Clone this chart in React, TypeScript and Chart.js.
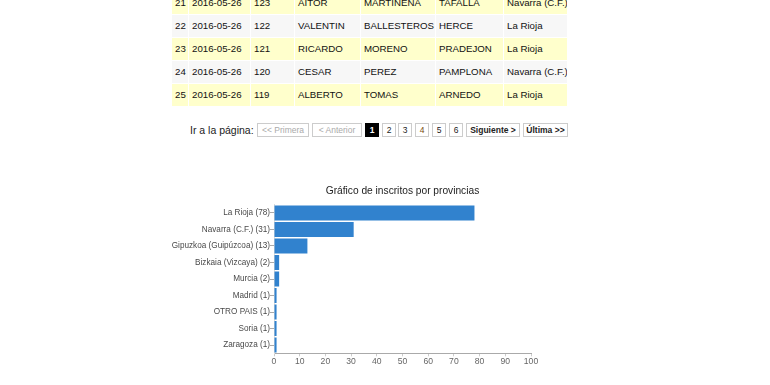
import React, { useEffect, useRef } from "react";
import { Chart, registerables } from "chart.js";

Chart.register(...registerables);

const chartTitle = "Gráfico de inscritos por provincias";
const provinces = [
  "La Rioja (78)",
  "Navarra (C.F.) (31)",
  "Gipuzkoa (Guipúzcoa) (13)",
  "Bizkaia (Vizcaya) (2)",
  "Murcia (2)",
  "Madrid (1)",
  "OTRO PAIS (1)",
  "Soria (1)",
  "Zaragoza (1)",
];
const inscritos = [78, 31, 13, 2, 2, 1, 1, 1, 1];
const xTicks = [0, 10, 20, 30, 40, 50, 60, 70, 80, 90, 100];

const tableRows: string[][] = [
  ["21", "2016-05-26", "123", "AITOR", "MARTINENA", "TAFALLA", "Navarra (C.F.)"],
  ["22", "2016-05-26", "122", "VALENTIN", "BALLESTEROS", "HERCE", "La Rioja"],
  ["23", "2016-05-26", "121", "RICARDO", "MORENO", "PRADEJON", "La Rioja"],
  ["24", "2016-05-26", "120", "CESAR", "PEREZ", "PAMPLONA", "Navarra (C.F.)"],
  ["25", "2016-05-26", "119", "ALBERTO", "TOMAS", "ARNEDO", "La Rioja"],
];
const colEdges = [172, 189, 251, 295, 361, 436, 504, 568];

const pageButtons = [
  { t: "<< Primera", x: 257, w: 52, kind: "off" },
  { t: "< Anterior", x: 312, w: 50, kind: "off" },
  { t: "1", x: 365, w: 14, kind: "cur" },
  { t: "2", x: 382, w: 14, kind: "n" },
  { t: "3", x: 398, w: 14, kind: "n" },
  { t: "4", x: 415, w: 14, kind: "n4" },
  { t: "5", x: 432, w: 14, kind: "n" },
  { t: "6", x: 449, w: 14, kind: "n" },
  { t: "Siguiente >", x: 466, w: 54, kind: "b" },
  { t: "Última >>", x: 523, w: 45, kind: "b" },
];

const FONT = '"Liberation Sans", Arial, Helvetica, sans-serif';

const centeredTitle = {
  id: "centeredTitle",
  afterDraw(chart: any) {
    const { ctx, chartArea } = chart;
    ctx.save();
    ctx.font = "10.2px " + FONT;
    ctx.fillStyle = "#222";
    ctx.textAlign = "center";
    ctx.textBaseline = "middle";
    ctx.fillText(chartTitle, (chartArea.left + chartArea.right) / 2, 11.5);
    ctx.restore();
  },
};

function BarChart() {
  const ref = useRef<HTMLCanvasElement | null>(null);
  useEffect(() => {
    if (!ref.current) return;
    const chart = new Chart(ref.current, {
      type: "bar",
      data: {
        labels: provinces,
        datasets: [
          {
            data: inscritos,
            backgroundColor: "#3182ce",
            borderWidth: 0,
            barPercentage: 0.9,
            categoryPercentage: 1,
          },
        ],
      },
      options: {
        indexAxis: "y",
        animation: false,
        responsive: false,
        maintainAspectRatio: false,
        layout: { padding: { left: 0, right: 124, top: 24.7, bottom: 0 } },
        plugins: {
          legend: { display: false },
          tooltip: { enabled: false },
          title: { display: false },
        },
        scales: {
          x: {
            min: 0,
            max: 100,
            afterFit: (s: any) => {
              s.height = 26.7;
            },
            afterBuildTicks: (s: any) => {
              s.ticks = xTicks.map((v) => ({ value: v }));
            },
            ticks: {
              color: "#666",
              font: { family: FONT, size: 8.6 },
              padding: 0,
              maxRotation: 0,
            },
            grid: {
              drawOnChartArea: false,
              drawTicks: true,
              tickLength: 3,
              color: "#ccc",
            },
            border: { display: true, color: "#aaa", width: 1 },
          },
          y: {
            afterFit: (s: any) => {
              s.width = 124;
            },
            ticks: {
              color: "#4a4a4a",
              font: { family: FONT, size: 8.2 },
              padding: 0,
              autoSkip: false,
            },
            grid: {
              offset: false,
              drawOnChartArea: false,
              drawTicks: true,
              tickLength: 4,
              color: "#aaa",
            },
            border: { display: true, color: "#ddd", width: 1 },
          },
        },
      },
      plugins: [centeredTitle],
    });
    return () => chart.destroy();
  }, []);
  return (
    <canvas
      ref={ref}
      width={505}
      height={200}
      style={{ position: "absolute", left: 150, top: 180, width: 505, height: 200 }}
    />
  );
}

export default function App() {
  return (
    <div
      style={{
        position: "absolute",
        left: 0,
        top: 0,
        width: 770,
        height: 385,
        overflow: "hidden",
        background: "#fff",
        fontFamily: FONT,
      }}
    >
      {tableRows.map((row, ri) => {
        const top = -8 + ri * 23;
        const bg = ri % 2 === 0 ? "#ffffcc" : "#f7f7f7";
        return row.map((cell, ci) => (
          <div
            key={ri + "-" + ci}
            style={{
              position: "absolute",
              left: colEdges[ci],
              top,
              width: colEdges[ci + 1] - colEdges[ci] - 1,
              height: 22,
              lineHeight: "22px",
              background: bg,
              color: "#111",
              fontSize: 9.7,
              paddingLeft: 3,
              boxSizing: "border-box",
              whiteSpace: "nowrap",
              overflow: "hidden",
            }}
          >
            {cell}
          </div>
        ));
      })}
      <div
        style={{
          position: "absolute",
          left: 190,
          top: 123,
          height: 14,
          lineHeight: "14px",
          fontSize: 10.5,
          color: "#222",
          whiteSpace: "nowrap",
        }}
      >
        Ir a la página:
      </div>
      {pageButtons.map((b, i) => {
        const cur = b.kind === "cur";
        return (
          <div
            key={i}
            style={{
              position: "absolute",
              left: b.x,
              top: 123,
              width: b.w,
              height: 14,
              lineHeight: "12px",
              boxSizing: "border-box",
              border: cur ? "1px solid #000" : "1px solid #ccc",
              background: cur ? "#000" : "#fff",
              color: cur ? "#fff" : b.kind === "off" ? "#aaa" : b.kind === "n4" ? "#7a4a10" : "#222",
              fontWeight: cur || b.kind === "b" ? "bold" : "normal",
              fontSize: 8.5,
              textAlign: "center",
              whiteSpace: "nowrap",
            }}
          >
            {b.t}
          </div>
        );
      })}
      <BarChart />
    </div>
  );
}
